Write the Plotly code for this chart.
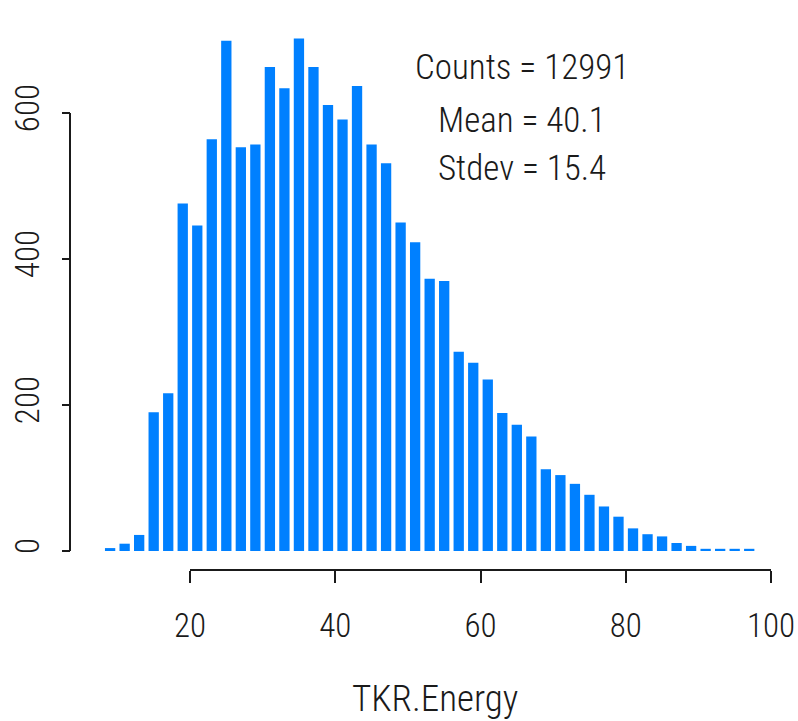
import plotly.graph_objects as go

# Histogram of TKR.Energy, 2-unit bins from 8 to 98
bin_width = 2
bin_left_edges = list(range(8, 98, 2))
bin_counts = [
    4, 10, 22, 190, 216, 476, 446, 564, 699, 553,
    557, 663, 634, 702, 663, 611, 591, 637, 557, 531,
    450, 423, 373, 370, 273, 258, 235, 189, 173, 157,
    112, 104, 92, 77, 61, 47, 31, 23, 20, 11,
    7, 3, 3, 3, 3,
]
bin_centers = [e + bin_width / 2 for e in bin_left_edges]

x_ticks = [20, 40, 60, 80, 100]
y_ticks = [0, 200, 400, 600]

stat_counts = 12991
stat_mean = 40.1
stat_stdev = 15.4
x_title = "TKR.Energy"

W, H = 798, 721
FONT = "Roboto Condensed, Liberation Sans, Arial, sans-serif"
INK = "#1a1a1a"
BAR = "#0080ff"

# pixel anchors of the axes (x=20 -> 190px, x=100 -> 771px; y=0 -> 551px, y=600 -> 113px)
px_x20, px_x100 = 190.0, 771.0
px_y0, px_y600 = 551.0, 113.0
ux = (px_x100 - px_x20) / (x_ticks[-1] - x_ticks[0])
uy = (px_y0 - px_y600) / (y_ticks[-1] - y_ticks[0])
x_range = [x_ticks[0] - px_x20 / ux, x_ticks[0] + (W - px_x20) / ux]
y_range = [-(H - px_y0) / uy, px_y0 / uy]

x_axis_px = 570.0   # vertical pixel of the x axis line
y_axis_px = 70.0    # horizontal pixel of the y axis line

fig = go.Figure()
fig.add_trace(go.Bar(
    x=bin_centers,
    y=bin_counts,
    marker=dict(color=BAR, line=dict(width=0)),
    hoverinfo="x+y",
))

tick_font = dict(family=FONT, size=33, color=INK, weight=300)

fig.update_layout(
    width=W, height=H,
    margin=dict(l=0, r=0, t=0, b=0),
    paper_bgcolor="white",
    plot_bgcolor="white",
    showlegend=False,
    bargap=0.29,
    font=dict(family=FONT, color=INK, size=33),
    xaxis=dict(
        range=x_range, domain=[0, 1],
        anchor="free", position=1 - x_axis_px / H,
        tickvals=x_ticks, ticktext=[str(v) for v in x_ticks],
        ticks="outside", ticklen=12, tickwidth=2, tickcolor=INK,
        showline=False, showgrid=False, zeroline=False,
        tickfont=tick_font,
        ticklabelstandoff=14,
        ticklabeloverflow="allow",
    ),
    yaxis=dict(
        range=y_range, domain=[0, 1],
        anchor="free", position=y_axis_px / W,
        tickvals=y_ticks, ticktext=[str(v) for v in y_ticks],
        ticks="outside", ticklen=8, tickwidth=2, tickcolor=INK,
        tickangle=-90,
        showline=False, showgrid=False, zeroline=False,
        tickfont=tick_font,
        ticklabelstandoff=10,
        ticklabeloverflow="allow",
    ),
)

# R-style axis lines spanning only the tick range
fig.add_shape(type="line", xref="x", yref="paper",
              x0=x_ticks[0], x1=x_ticks[-1],
              y0=1 - x_axis_px / H, y1=1 - x_axis_px / H,
              line=dict(color=INK, width=2))
fig.add_shape(type="line", xref="paper", yref="y",
              x0=y_axis_px / W, x1=y_axis_px / W,
              y0=y_ticks[0], y1=y_ticks[-1],
              line=dict(color=INK, width=2))

# summary statistics block
stat_lines = [
    (f"Counts = {stat_counts}", 68),
    (f"Mean = {stat_mean:.1f}", 120),
    (f"Stdev = {stat_stdev:.1f}", 168),
]
for text, py in stat_lines:
    fig.add_annotation(text=text, xref="paper", yref="paper",
                       x=522 / W, y=1 - py / H,
                       xanchor="center", yanchor="middle",
                       showarrow=False,
                       font=dict(family=FONT, size=35, color=INK, weight=300))

fig.add_annotation(text=x_title, xref="paper", yref="paper",
                   x=435 / W, y=1 - 698 / H,
                   xanchor="center", yanchor="middle",
                   showarrow=False,
                   font=dict(family=FONT, size=37, color=INK, weight=300))

fig.write_html("out.html")
